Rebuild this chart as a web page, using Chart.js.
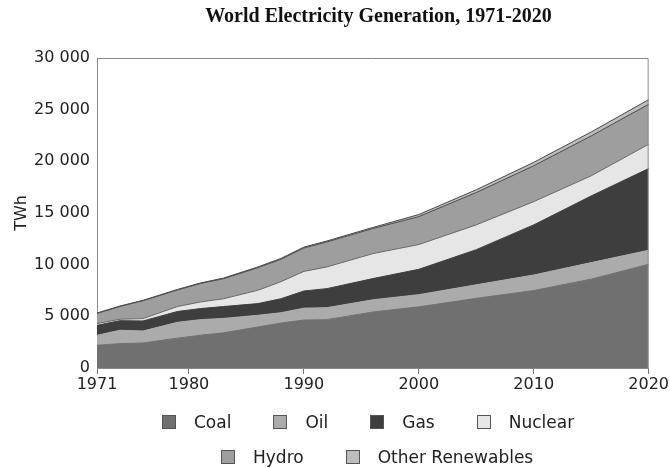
<!DOCTYPE html>
<html>
<head>
<meta charset="utf-8">
<script src="https://cdn.jsdelivr.net/npm/chart.js@4.4.1/dist/chart.umd.min.js"></script>
<style>
  html, body { margin: 0; padding: 0; background: #fff; }
  #wrap { position: relative; width: 670px; height: 468px; overflow: hidden; }
  #title { position: absolute; left: 87px; width: 583px; top: 4px; text-align: center;
           font: bold 20px "Liberation Serif", serif; color: #111; }
  .lrow { position: absolute; display: flex; align-items: center; white-space: nowrap;
          font: 17px "DejaVu Sans", sans-serif; color: #222; }
  .item { display: flex; align-items: center; margin-right: 42px; }
  .box { width: 12px; height: 12px; border: 1px solid #555; margin-right: 18px; }
</style>
</head>
<body>
<div id="wrap">
  <canvas id="chart" width="670" height="468"></canvas>
  <div id="title">World Electricity Generation, 1971-2020</div>
  <div class="lrow" id="row1" style="left:162px; top:412px;"></div>
  <div class="lrow" id="row2" style="left:221px; top:447px;"></div>
</div>
<script>
// category axis: 1972 is not in the series
const axisYears = ['1971','1973','1974','1975','1976','1977','1978','1979','1980',
  '1981','1982','1983','1984','1985','1986','1987','1988','1989','1990',
  '1991','1992','1993','1994','1995','1996','1997','1998','1999','2000',
  '2001','2002','2003','2004','2005','2006','2007','2008','2009','2010',
  '2011','2012','2013','2014','2015','2016','2017','2018','2019','2020'];
const tickYears = ['1971','1980','1990','2000','2010','2020'];

// years (TWh)
const dataYears = ['1971','1974','1976','1979','1981','1983','1986','1988','1990',
  '1992','1996','2000','2005','2010','2015','2020'];
const coal     = [2200,2360,2420,2890,3170,3400,3970,4350,4640,4680,5420,5920,6740,7500,8600,10035];
const oil      = [960,1290,1160,1530,1510,1400,1130,1000,1150,1160,1180,1180,1310,1500,1600,1355];
const gas      = [970,930,970,1050,1070,1150,1130,1350,1660,1840,2050,2450,3400,4850,6450,7910];
const nuclear  = [170,140,230,480,640,750,1290,1650,1900,2100,2420,2400,2400,2250,1950,2350];
const hydro    = [980,1240,1730,1600,1790,1940,2190,2170,2260,2420,2430,2700,3130,3470,3860,3870];
const otherRen = [40,40,40,50,50,60,70,80,90,90,100,200,270,330,380,450];

const names  = ['Coal','Oil','Gas','Nuclear','Hydro','Other Renewables'];
const values = [coal, oil, gas, nuclear, hydro, otherRen];
const fills  = ['#707070','#ababab','#3e3e3e','#e6e6e6','#9e9e9e','#bdbdbd'];
const edges  = ['#707070','#ababab','#3e3e3e','#666666','#4a4a4a','#4a4a4a'];

const datasets = names.map(function(n, k){
  return {
    label: n,
    data: dataYears.map(function(y, i){ return {x: y, y: values[k][i]}; }),
    backgroundColor: fills[k],
    borderColor: edges[k],
    borderWidth: 1,
    fill: k === 0 ? 'origin' : '-1',
    pointRadius: 0,
    tension: 0
  };
});

// box round the plot
const frame = {
  id: 'frame',
  afterDatasetsDraw(chart){
    const a = chart.chartArea, c = chart.ctx;
    c.save();
    c.strokeStyle = '#8a8a8a';
    c.lineWidth = 1;
    c.beginPath();
    c.moveTo(a.left, a.top + 0.5);
    c.lineTo(a.right - 0.5, a.top + 0.5);
    c.lineTo(a.right - 0.5, a.bottom);
    c.stroke();
    c.restore();
  }
};

Chart.defaults.font.family = '"DejaVu Sans", sans-serif';
Chart.defaults.color = '#222';

const chart = new Chart(document.getElementById('chart'), {
  type: 'line',
  data: { labels: axisYears, datasets: datasets },
  options: {
    responsive: false,
    animation: false,
    layout: { padding: { left: 12, right: 16, top: 58, bottom: 70 } },
    plugins: { legend: { display: false }, tooltip: { enabled: false } },
    scales: {
      x: {
        type: 'category',
        afterFit(s){ s.height = 30; },
        grid: {
          drawOnChartArea: false,
          tickLength: 6,
          tickColor: function(ctx){ return ctx.tick && ctx.tick.label ? '#777' : 'rgba(0,0,0,0)'; }
        },
        border: { color: '#8a8a8a' },
        ticks: {
          autoSkip: false, maxRotation: 0, padding: 1,
          font: { size: 16 },
          callback: function(v){
            const l = this.getLabelForValue(v);
            return tickYears.indexOf(l) >= 0 ? l : '';
          }
        }
      },
      y: {
        stacked: true,
        min: 0, max: 30000,
        afterFit(s){ s.width = 85; },
        grid: { drawOnChartArea: false, drawTicks: false },
        border: { color: '#8a8a8a' },
        title: { display: true, text: 'TWh', font: { size: 16 }, padding: 0 },
        ticks: {
          stepSize: 5000, padding: 7,
          font: { size: 16 },
          callback: function(v){ return String(v).replace(/\B(?=(\d{3})+(?!\d))/g, ' '); }
        }
      }
    }
  },
  plugins: [frame]
});

// html legend, two rows like the original
chart.data.datasets.forEach(function(d, k){
  const it = document.createElement('div');
  it.className = 'item';
  const b = document.createElement('span');
  b.className = 'box';
  b.style.background = d.backgroundColor;
  const t = document.createElement('span');
  t.textContent = d.label;
  it.appendChild(b); it.appendChild(t);
  document.getElementById(k < 4 ? 'row1' : 'row2').appendChild(it);
});
</script>
</body>
</html>
